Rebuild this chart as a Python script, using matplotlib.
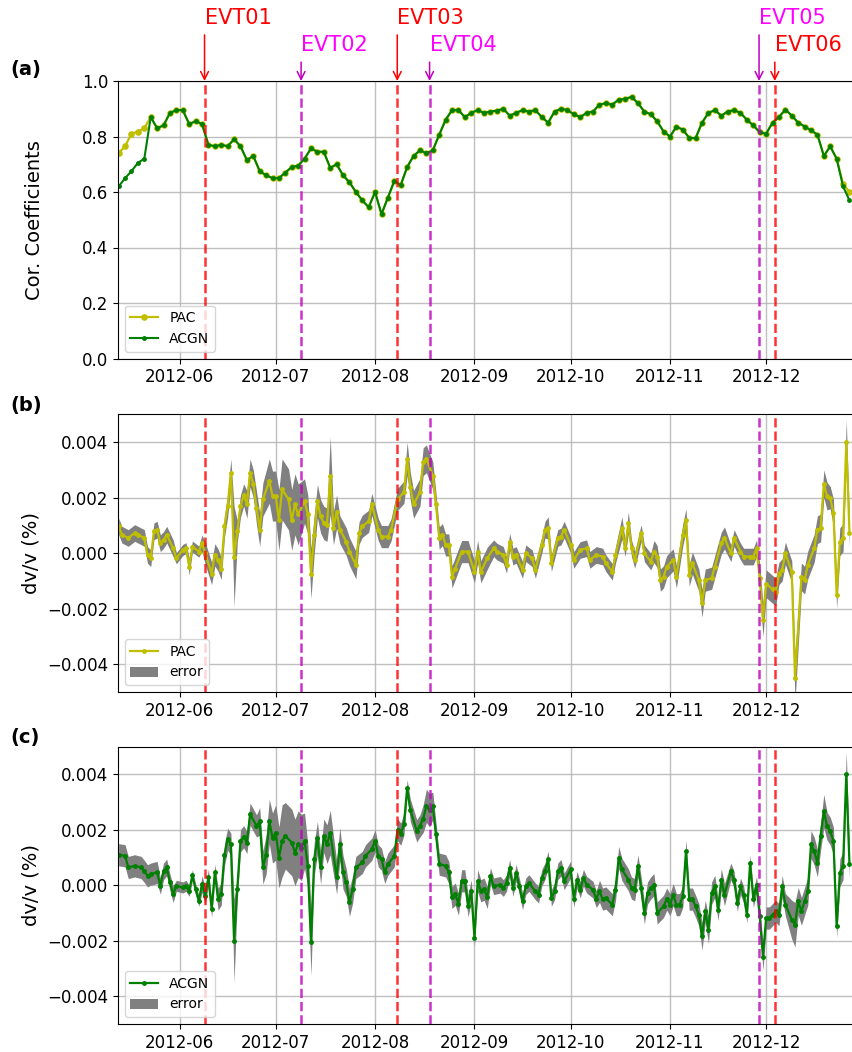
"""
Correlation coefficients and dv/v (PAC vs ACGN), May - Dec 2012,
with the six events marked on every panel.
"""

import matplotlib

matplotlib.use("Agg")  # headless
import matplotlib.dates as mdates
import matplotlib.pyplot as plt
import matplotlib.transforms as mtransforms
import numpy as np
import pandas as pd

# --------------------------------------------------------------------------- #
# Data (days counted from 2012-05-13)
# --------------------------------------------------------------------------- #
START = pd.Timestamp("2012-05-13")

# (a) correlation coefficients, every second day
CC_DAY = list(range(0, 229, 2))
CC_ACGN = [
    0.62, 0.65, 0.675, 0.705, 0.72, 0.87, 0.83, 0.84, 0.885, 0.895,
    0.895, 0.845, 0.855, 0.845, 0.77, 0.765, 0.77, 0.765, 0.79, 0.765,
    0.715, 0.73, 0.675, 0.66, 0.65, 0.65, 0.67, 0.69, 0.695, 0.72,
    0.757, 0.745, 0.745, 0.687, 0.70, 0.66, 0.635, 0.60, 0.57, 0.545,
    0.60, 0.52, 0.58, 0.64, 0.625, 0.69, 0.73, 0.75, 0.74, 0.75,
    0.806, 0.86, 0.895, 0.895, 0.87, 0.885, 0.895, 0.885, 0.89,
    0.893, 0.90, 0.875, 0.885, 0.895, 0.89, 0.895, 0.87, 0.85, 0.89,
    0.90, 0.895, 0.88, 0.87, 0.885, 0.89, 0.915, 0.92, 0.915, 0.933,
    0.935, 0.943, 0.92, 0.89, 0.88, 0.855, 0.818, 0.80, 0.835, 0.825,
    0.795, 0.794, 0.85, 0.885, 0.895, 0.875, 0.89, 0.895, 0.885, 0.86,
    0.84, 0.815, 0.81, 0.85, 0.87, 0.897, 0.875, 0.85, 0.836, 0.822,
    0.807, 0.73, 0.764, 0.72, 0.62, 0.57,
]
CC_PAC_HEAD = [0.74, 0.765, 0.81, 0.818, 0.83]   # PAC differs only at the start
CC_PAC_TAIL = [0.63, 0.60]
CC_PAC = CC_PAC_HEAD + CC_ACGN[len(CC_PAC_HEAD):-2] + CC_PAC_TAIL

# (b) dv/v from PAC
DVV_PAC_DAY = [
    0, 1, 3, 5, 6, 8, 9, 10, 11, 12, 13, 14, 15, 17, 18, 20, 21, 22, 23, 25,
    26, 27, 29, 30, 31, 32, 33, 34, 35, 36, 37, 38, 39, 40, 41, 42, 43, 44, 45, 47,
    48, 49, 50, 51, 53, 54, 55, 56, 58, 59, 60, 61, 62, 63, 64, 65, 66, 67, 68, 69,
    71, 72, 74, 75, 76, 78, 79, 81, 82, 84, 85, 87, 89, 90, 91, 92, 94, 95, 96, 98,
    99, 100, 101, 102, 103, 104, 105, 107, 109, 111, 112, 113, 115,
    117, 118, 120, 121, 122, 123, 124, 126, 127, 129, 130, 132, 133, 134, 135, 137,
    138, 139, 141, 142, 144, 146, 147, 149, 151, 152, 154, 155, 157, 158, 159, 160,
    161, 163, 164, 166, 167, 168, 169, 170, 171, 173, 174, 176, 177, 178, 179, 181,
    182, 183, 185, 186, 188, 189, 191, 192, 194, 195, 197, 198, 199, 200, 201, 202,
    204, 205, 206, 207, 208, 210, 211, 213, 214, 215, 217, 218, 219, 220, 221, 222,
    223, 224, 225, 226, 227, 228,
]
DVV_PAC = [
    0.00097, 0.00067, 0.00055, 0.00073, 0.00067, 0.00055, -0.00006, -0.00018, 0.00079, 0.00085,
    0.00036, 0.00048, 0.00067, 0.00018, -0.00018, 0.00012, 0.00018, -0.00048, 0.00024, 0.00006,
    0.00036, 0.0, -0.00073, -0.00006, -0.00024, -0.00055, 0.00097, 0.0017, 0.0029, -0.00012,
    0.00079, 0.0017, 0.0021, 0.00176, 0.0029, 0.0025, 0.00164, 0.00085, 0.00194, 0.0026,
    0.00206, 0.00206, 0.0012, 0.0023, 0.00194, 0.0012, 0.00176, 0.0014, 0.00188, 0.0014,
    -0.00073, 0.00067, 0.00188, 0.00133, 0.00109, 0.00103, 0.0028, 0.00091, 0.0015, 0.00085,
    0.00042, 0.00006, -0.00042, 0.00073, 0.00097, 0.00115, 0.00176, 0.00085, 0.0006, 0.0006,
    0.00085, 0.00194, 0.0022, 0.0034, 0.0024, 0.00176, 0.0022, 0.0033, 0.0034, 0.0028,
    0.00176, 0.00055, 0.00067, 0.0003, 0.0003, -0.00085, -0.00055, 0.00006, 0.00006, -0.00067,
    0.00006, -0.00067, -0.00018,
    0.00018, 0.00006, -0.00006, -0.00042, 0.00042, -0.00012, -0.00006, -0.0006, 0.0, -0.00018,
    -0.0006, 0.0003, 0.00085, 0.00091, -0.00036, 0.00055, 0.0006, 0.00085, 0.0003, -0.00024,
    0.00012, 0.00018, -0.00024, -0.00006, -0.00012, -0.00036, -0.00067, -0.00006, 0.00091, 0.00018,
    0.00109, 0.00018, -0.00024, 0.00073, 0.0, -0.0003, 0.00006, -0.00012, -0.00097, -0.00085,
    -0.00048, -0.00024, -0.00085, 0.00067, 0.0012, -0.00079, -0.00036, -0.00097, -0.0018, -0.00097,
    -0.0009, -0.00048, 0.00036, 0.00055, 0.0, 0.00055, 0.00006, -0.00012, -0.00012, -0.00012,
    0.00018, -0.0009, -0.0024, -0.0011, -0.0013, -0.0014, -0.00073, -0.0006, 0.0, -0.00067,
    -0.0045, -0.00085, -0.00097, -0.00042, 0.00018, 0.00085, 0.00091, 0.0025, 0.00206, 0.002,
    0.00145, -0.0015, 0.00042, 0.00055, 0.004, 0.00073,
]
DVV_PAC_ERR = [
    0.0003, 0.0003, 0.0003, 0.0003, 0.0003, 0.0003, 0.0003, 0.0003, 0.0003, 0.0003,
    0.0003, 0.0003, 0.0003, 0.0003, 0.0002, 0.0002, 0.0002, 0.0003, 0.0002, 0.0002,
    0.0003, 0.0004, 0.0004, 0.0004, 0.0004, 0.0004, 0.0004, 0.0004, 0.0005, 0.0018,
    0.0004, 0.0004, 0.0004, 0.0005, 0.0005, 0.0005, 0.0006, 0.0006, 0.0006, 0.0008,
    0.0009, 0.0009, 0.0011, 0.0011, 0.0011, 0.0011, 0.0011, 0.0011, 0.0008, 0.0007,
    0.0009, 0.0007, 0.0006, 0.0006, 0.0006, 0.0006, 0.0014, 0.0006, 0.0006, 0.0005,
    0.0005, 0.0005, 0.0005, 0.0004, 0.0004, 0.0004, 0.0004, 0.0004, 0.0004, 0.0004,
    0.0004, 0.0004, 0.0004, 0.0006, 0.0005, 0.0005, 0.0005, 0.0005, 0.0005, 0.0005,
    0.0004, 0.0004, 0.0004, 0.0004, 0.0004, 0.0004, 0.0004, 0.0004, 0.0004, 0.0004,
    0.0004, 0.0004, 0.0004,
    0.0003, 0.0003, 0.0003, 0.0003, 0.0003, 0.0003, 0.0003, 0.0003, 0.0003, 0.0003,
    0.0003, 0.0003, 0.0003, 0.0004, 0.0003, 0.0003, 0.0003, 0.0003, 0.0003, 0.0003,
    0.0003, 0.0003, 0.0003, 0.0003, 0.0003, 0.0003, 0.0003, 0.0003, 0.0004, 0.0003,
    0.0004, 0.0003, 0.0003, 0.0003, 0.0003, 0.0003, 0.0004, 0.0004, 0.0004, 0.0004,
    0.0004, 0.0004, 0.0004, 0.0004, 0.0004, 0.0004, 0.0004, 0.0004, 0.0005, 0.0004,
    0.0004, 0.0004, 0.0004, 0.0004, 0.0003, 0.0003, 0.0003, 0.0003, 0.0003, 0.0003,
    0.0003, 0.0005, 0.0006, 0.0005, 0.0005, 0.0005, 0.0004, 0.0004, 0.0004, 0.0004,
    0.0009, 0.0005, 0.0005, 0.0005, 0.0005, 0.0005, 0.0005, 0.0005, 0.0005, 0.0004,
    0.0005, 0.0005, 0.0005, 0.0005, 0.0008, 0.0005,
]

# (c) dv/v from ACGN
DVV_ACGN_DAY = [
    0, 2, 3, 5, 7, 8, 9, 10, 12, 13, 14, 15, 16, 17, 18, 20, 21, 22, 23, 24,
    25, 26, 27, 28, 29, 30, 31, 32, 33, 34, 35, 36, 37, 38, 39, 40, 41, 43, 44, 45,
    46, 47, 48, 49, 50, 51, 52, 54, 55, 56, 57, 58, 59, 60, 61, 62, 63, 64, 65, 66,
    68, 69, 70, 71, 72, 73, 74, 76, 77, 79, 80, 81, 82, 83, 84, 86, 87, 88, 89, 90,
    91, 93, 94, 95, 96, 97, 98, 99, 100, 102, 103, 104, 105, 106, 107, 108, 109, 110,
    111, 112, 113, 114, 115,
    116, 117, 119, 120, 121, 122, 123, 124, 125, 126, 127, 128, 130, 131, 132, 133,
    134, 135, 136, 137, 138, 139, 141, 142, 143, 144, 145, 146, 148, 149, 150, 151,
    152, 154, 155, 156, 157, 159, 160, 161, 162, 163, 164, 165, 166, 167, 168, 170,
    171, 172, 173, 174, 175, 176, 177, 178, 179, 180, 181, 182, 183, 184, 185, 186,
    187, 188, 189, 191, 192, 193, 194, 195, 196, 197, 198, 199, 200, 201, 202, 203,
    204, 205, 206, 207, 208, 210, 211, 212, 213, 214, 215, 216, 217, 218, 219, 220,
    221, 222, 223, 224, 225, 226, 227, 228,
]
DVV_ACGN = [
    0.0011, 0.00106, 0.00064, 0.0007, 0.00064, 0.0005, 0.00034, 0.0004, 0.00046, -0.00002,
    0.0005, 0.00064, 0.0001, -0.00032, -0.00002, -0.00008, -0.00002, -0.0002, 0.00036, -0.00014,
    -0.00056, 0.00004, -0.00038, 0.00028, -0.00086, 0.00046, -0.0005, -0.00032, 0.0011, 0.00166,
    0.00148, -0.002, -0.00014, 0.0016, 0.00175, 0.00154, 0.00256, 0.00214, 0.0023, 0.00064,
    0.0011, 0.0023, 0.0017, 0.0019, 0.001, 0.0016, 0.00178, 0.00154, 0.00118, 0.00148,
    0.00136, 0.0016, 0.0007, -0.00206, 0.00094, 0.0017, 0.00064, 0.00178, 0.00148, 0.0019,
    0.00028, 0.00148, 0.00046, 0.0001, -0.00062, -0.00014, 0.00064, 0.00082, 0.00106, 0.0013,
    0.0016, 0.00106, 0.00094, 0.00046, 0.00076, 0.00106, 0.002, 0.00184, 0.0022, 0.0035,
    0.0027, 0.00196, 0.00214, 0.0024, 0.00286, 0.0027, 0.00286, 0.00184, 0.00076, 0.0007,
    0.00046, -0.00044, -0.00032, -0.00068, 0.00016, 0.00016, -0.00074, -0.0002, -0.0019, 0.00016,
    -0.0002, -0.00014, -0.00044,
    0.00033, -0.00004, 0.00002, -0.0001, 0.00008, 0.00063, -0.0001, 0.00045, -0.00004, -0.00058,
    -0.00004, 0.00008, -0.00022, -0.00034, 0.00027, 0.0005, 0.00093, -0.00046, -0.00022, 0.0005,
    0.00063, 0.00014, 0.00057, -0.0005, 0.0002, -0.00016, 0.00027, 0.00002, -0.00016, -0.0005,
    -0.00022, -0.0005, -0.00046, -0.0007, -0.00016, 0.001, 0.00057, 0.0002, -0.0001, -0.00016,
    0.0007, -0.0001, -0.001, -0.00028, -0.0001, 0.00002, -0.001, -0.00076, -0.0005, -0.0007,
    -0.00034, -0.0007, -0.0007, -0.0004, 0.00123, -0.0005, -0.0005, -0.00076, -0.00106, -0.00184,
    -0.00094, -0.0016, -0.00028, -0.00004, -0.00088, 0.0002, -0.00034, 0.0005, 0.0002, -0.00064,
    -0.00004, -0.00034, -0.00106, 0.0008, -0.0005, 0.00002, -0.00112, -0.00257, -0.00118, -0.00118,
    -0.00106, -0.00094, -0.00106, -0.00004, -0.0007, -0.00124, -0.00142, -0.00058, -0.00094, -0.00058,
    -0.00022, 0.00147, 0.00123, 0.0008, 0.00177, 0.00267, 0.00213, 0.00195, 0.00159, -0.00148,
    0.00045, 0.0007, 0.004, 0.00075,
]
DVV_ACGN_ERR = [
    0.0004, 0.0004, 0.0004, 0.0004, 0.0004, 0.0004, 0.0004, 0.0004, 0.0004, 0.0003,
    0.0003, 0.0003, 0.0003, 0.0003, 0.0002, 0.0002, 0.0002, 0.0002, 0.0002, 0.0002,
    0.0002, 0.0003, 0.0003, 0.0003, 0.0003, 0.0003, 0.0004, 0.0004, 0.0004, 0.0004,
    0.0004, 0.0015, 0.0004, 0.0004, 0.0004, 0.0004, 0.0004, 0.0004, 0.0005, 0.0006,
    0.0007, 0.0008, 0.0009, 0.001, 0.0011, 0.0013, 0.0012, 0.0012, 0.0012, 0.0012,
    0.0012, 0.001, 0.0008, 0.0012, 0.0006, 0.0006, 0.0006, 0.0006, 0.0007, 0.0008,
    0.0006, 0.0006, 0.0006, 0.0005, 0.0005, 0.0005, 0.0004, 0.0004, 0.0004, 0.0004,
    0.0004, 0.0004, 0.0004, 0.0004, 0.0004, 0.0004, 0.0004, 0.0004, 0.0004, 0.0003,
    0.0004, 0.0004, 0.0004, 0.0005, 0.0006, 0.0006, 0.0005, 0.0004, 0.0004, 0.0004,
    0.0004, 0.0004, 0.0004, 0.0004, 0.0004, 0.0004, 0.0004, 0.0004, 0.0003, 0.0004,
    0.0004, 0.0004, 0.0004,
    0.0003, 0.0003, 0.0003, 0.0003, 0.0003, 0.0003, 0.0003, 0.0003, 0.0003, 0.0003,
    0.0003, 0.0003, 0.0003, 0.0003, 0.0003, 0.0003, 0.0003, 0.0003, 0.0003, 0.0003,
    0.0003, 0.0003, 0.0003, 0.0003, 0.0003, 0.0003, 0.0003, 0.0003, 0.0003, 0.0003,
    0.0004, 0.0004, 0.0004, 0.0004, 0.0004, 0.0004, 0.0004, 0.0004, 0.0004, 0.0004,
    0.0004, 0.0004, 0.0004, 0.0004, 0.0004, 0.0004, 0.0004, 0.0004, 0.0004, 0.0004,
    0.0004, 0.0004, 0.0004, 0.0004, 0.0004, 0.0004, 0.0004, 0.0004, 0.0004, 0.0005,
    0.0004, 0.0005, 0.0004, 0.0004, 0.0004, 0.0004, 0.0004, 0.0003, 0.0003, 0.0003,
    0.0003, 0.0003, 0.0003, 0.0003, 0.0003, 0.0003, 0.0004, 0.0005, 0.0004, 0.0004,
    0.0004, 0.0004, 0.0004, 0.0004, 0.0004, 0.0007, 0.0008, 0.0005, 0.0005, 0.0005,
    0.0005, 0.0005, 0.0005, 0.0005, 0.0005, 0.0006, 0.0005, 0.0005, 0.0005, 0.0004,
    0.0005, 0.0005, 0.0008, 0.0005,
]

# events
EVT_NAMES = ["EVT01", "EVT02", "EVT03", "EVT04", "EVT05", "EVT06"]
EVT_TIMES = ["2012-06-08 19:00", "2012-07-08 22:00", "2012-08-07 22:00",
             "2012-08-18 00:00", "2012-11-28 19:00", "2012-12-03 17:00"]
EVT_KIND = ["r", "m", "r", "m", "m", "r"]          # red / magenta group
EVT_HIGH = [True, False, True, False, True, False]  # label on upper row?

# --------------------------------------------------------------------------- #
# Style / layout
# --------------------------------------------------------------------------- #
FIG_W, FIG_H, DPI = 853, 1052, 100
LEFT = 118 / FIG_W
HEIGHT = 277.5 / FIG_H
BOTTOMS = [1 - 358.5 / FIG_H, 1 - 692 / FIG_H, 1 - 1024 / FIG_H]
PANEL_Y = [70, 405, 737]                           # panel letters, px from top

LINE_COL = {"r": ("r", 0.8), "m": ("m", 0.8)}
TEXT_COL = {"r": "#ff0000", "m": "#ff00ff"}
PAC_COL, ACGN_COL, ERR_COL = "y", "g", "gray"

X_LIM = (START - pd.Timedelta(hours=5), START + pd.Timedelta(days=229.1))


def days_to_dates(days):
    return START + pd.to_timedelta(np.asarray(days, dtype=float), unit="D")


def style_axis(ax):
    ax.set_xlim(*X_LIM)
    ax.xaxis.set_major_locator(mdates.MonthLocator())
    ax.xaxis.set_major_formatter(mdates.DateFormatter("%Y-%m"))
    ax.tick_params(labelsize=12)
    ax.grid(True, color="#b0b0b0", lw=1.0, alpha=0.8)
    ax.set_axisbelow(True)
    ax.spines["right"].set_visible(False)


def draw_events(ax, with_labels=False):
    trans = mtransforms.blended_transform_factory(ax.transData, ax.transAxes)
    for name, t, kind, high in zip(EVT_NAMES, EVT_TIMES, EVT_KIND, EVT_HIGH):
        x = mdates.date2num(pd.Timestamp(t))
        col, alpha = LINE_COL[kind]
        ax.axvline(x, color=col, alpha=alpha, ls="--", lw=1.8, zorder=3)
        if not with_labels:
            continue
        y_start = 1.166 if high else 1.068
        y_text = 1.227 if high else 1.128
        ax.annotate("", xy=(x, 1.0), xycoords=trans, xytext=(x, y_start),
                    textcoords=trans, annotation_clip=False,
                    arrowprops=dict(arrowstyle="->", color=col, lw=1.1,
                                    shrinkA=0, shrinkB=0, mutation_scale=14))
        ax.text(x, y_text, name, transform=trans, color=TEXT_COL[kind],
                fontsize=15, ha="left", va="center", clip_on=False)


def main():
    fig = plt.figure(figsize=(FIG_W / DPI, FIG_H / DPI), dpi=DPI)
    axes = [fig.add_axes([LEFT, b, 1 - LEFT, HEIGHT]) for b in BOTTOMS]

    # (a) correlation coefficients
    ax = axes[0]
    cc_t = days_to_dates(CC_DAY)
    ax.plot(cc_t, CC_PAC, color=PAC_COL, marker=".", ms=7.5, lw=1.6, label="PAC")
    ax.plot(cc_t, CC_ACGN, color=ACGN_COL, marker=".", ms=5, lw=1.5, label="ACGN")
    ax.set_ylim(0, 1.0)
    ax.set_yticks(np.arange(0, 1.01, 0.2))
    ax.set_ylabel("Cor. Coefficients", fontsize=14)
    ax.yaxis.set_label_coords(-0.100, 0.5)
    style_axis(ax)
    draw_events(ax, with_labels=True)
    ax.legend(loc="lower left", fontsize=10)

    # (b) / (c) dv/v with error band
    panels = [
        (axes[1], DVV_PAC_DAY, DVV_PAC, DVV_PAC_ERR, PAC_COL, "PAC"),
        (axes[2], DVV_ACGN_DAY, DVV_ACGN, DVV_ACGN_ERR, ACGN_COL, "ACGN"),
    ]
    for ax, day, val, err, col, label in panels:
        assert len(day) == len(val) == len(err), label
        t = days_to_dates(day)
        val, err = np.asarray(val), np.asarray(err)
        band = ax.fill_between(t, val - err, val + err, color=ERR_COL,
                               lw=0, label="error")
        line, = ax.plot(t, val, color=col, marker=".", ms=5, lw=1.6, label=label)
        ax.set_ylim(-0.005, 0.005)
        ax.set_yticks([-0.004, -0.002, 0.0, 0.002, 0.004])
        ax.set_ylabel("dv/v (%)", fontsize=14)
        ax.yaxis.set_label_coords(-0.106, 0.5)
        style_axis(ax)
        draw_events(ax)
        ax.legend(handles=[line, band], loc="lower left", fontsize=10)

    for letter, y in zip(["(a)", "(b)", "(c)"], PANEL_Y):
        fig.text(10 / FIG_W, 1 - y / FIG_H, letter, fontsize=14,
                 fontweight="bold", va="center", ha="left")

    fig.savefig("out.png", dpi=DPI)
    plt.close(fig)


if __name__ == "__main__":
    main()
